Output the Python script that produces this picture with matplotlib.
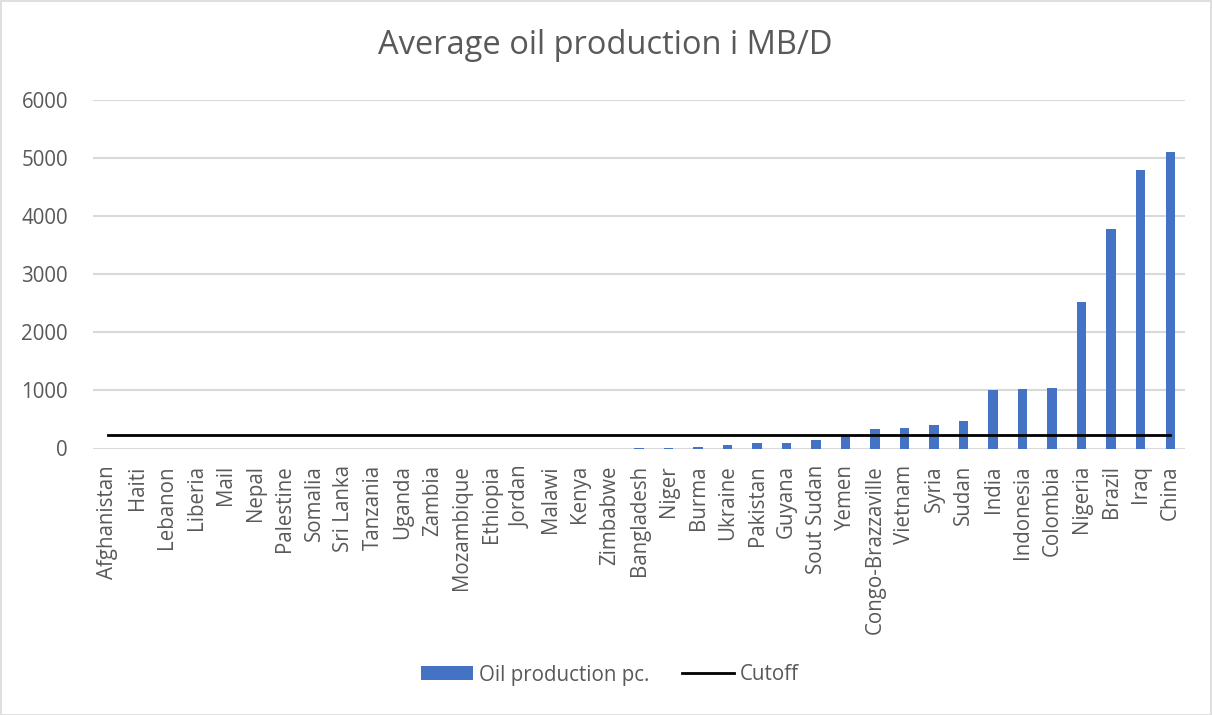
import matplotlib
matplotlib.use("Agg")
import matplotlib.pyplot as plt
from matplotlib.lines import Line2D
from matplotlib.patches import Patch, Rectangle

countries = [
    "Afghanistan", "Haiti", "Lebanon", "Liberia", "Mail", "Nepal", "Palestine",
    "Somalia", "Sri Lanka", "Tanzania", "Uganda", "Zambia", "Mozambique",
    "Ethiopia", "Jordan", "Malawi", "Kenya", "Zimbabwe", "Bangladesh", "Niger",
    "Burma", "Ukraine", "Pakistan", "Guyana", "Sout Sudan", "Yemen",
    "Congo-Brazzaville", "Vietnam", "Syria", "Sudan", "India", "Indonesia",
    "Colombia", "Nigeria", "Brazil", "Iraq", "China",
]
oil_production = [
    0, 0, 0, 0, 0, 0, 0, 0, 0, 0, 0, 0, 0, 0, 0, 0, 0, 0, 8, 12,
    18, 65, 100, 100, 152, 215, 340, 358, 410, 480, 1000, 1015,
    1032, 2522, 3766, 4780, 5095,
]
cutoff = 233
y_ticks = [0, 1000, 2000, 3000, 4000, 5000, 6000]

BAR = "#4472C4"
TEXT = "#595959"
GRID = "#D9D9D9"
FONT = "Open Sans"

plt.rcParams["font.family"] = [FONT, "DejaVu Sans"]

fig = plt.figure(figsize=(12.12, 7.15), dpi=100)
ax = fig.add_axes([93 / 1212, 266.5 / 715, 1092 / 1212, 349 / 715])

x = list(range(len(countries)))
ax.bar(x, oil_production, width=0.32, color=BAR, zorder=3)
ax.plot([x[0], x[-1]], [cutoff, cutoff], color="black", linewidth=2, zorder=4)

ax.set_xlim(-0.5, len(countries) - 0.5)
ax.set_ylim(0, 6000)
ax.set_yticks(y_ticks)
ax.set_yticklabels([str(v) for v in y_ticks])
ax.set_xticks(x)
ax.set_xticklabels(countries, rotation=90, va="top", ha="center")

ax.grid(axis="y", color=GRID, linewidth=1.5, zorder=0)
ax.set_axisbelow(True)
for s in ax.spines.values():
    s.set_visible(False)
ax.tick_params(axis="both", length=0, colors=TEXT, labelsize=14.8)
ax.tick_params(axis="y", pad=18)
ax.tick_params(axis="x", pad=12)

fig.text(605 / 1212, 1 - 45 / 715, "Average oil production i MB/D",
         ha="center", va="center", fontsize=23.5, color=TEXT)

handles = [Patch(facecolor=BAR, edgecolor="none"),
           Line2D([0], [0], color="black", linewidth=2)]
leg = fig.legend(handles, ["Oil production pc.", "Cutoff"],
                 loc="center", bbox_to_anchor=(610 / 1212, 1 - 675 / 715),
                 ncol=2, frameon=False, fontsize=14.8, handlelength=2.55,
                 handleheight=0.65, columnspacing=1.55, handletextpad=0.3)
for t in leg.get_texts():
    t.set_color(TEXT)

fig.patches.append(Rectangle((0.5 / 1212, 0.5 / 715), 1 - 1.5 / 1212, 1 - 1.5 / 715,
                             transform=fig.transFigure, fill=False,
                             edgecolor=GRID, linewidth=1.2))

fig.savefig("out.png", dpi=100)
